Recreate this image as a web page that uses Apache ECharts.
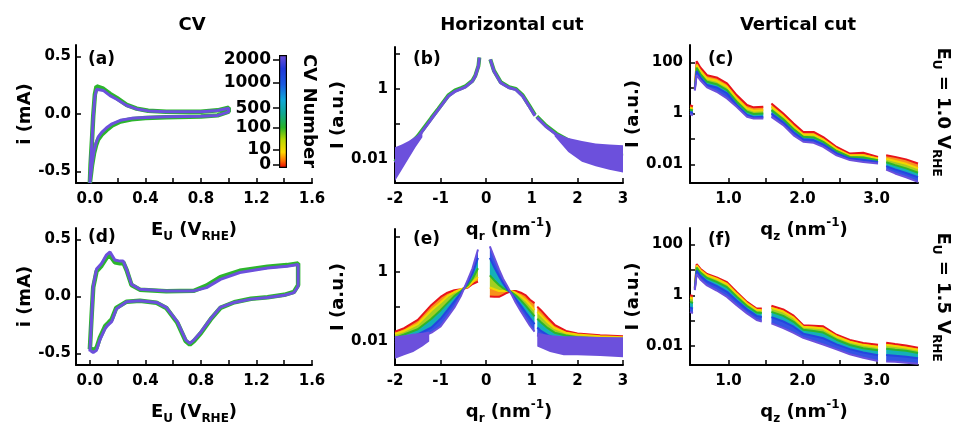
<!DOCTYPE html>
<html>
<head>
<meta charset="utf-8">
<script src="https://cdn.jsdelivr.net/npm/echarts@6.0.0/dist/echarts.min.js"></script>
<style>html,body{margin:0;padding:0;background:#fff}#main{width:955px;height:426px}</style>
</head>
<body>
<div id="main"></div>
<script>
// ---- CV, E_U = 1.0 V (a) ----
const aE = [0, 0.005, 0.015, 0.024, 0.036, 0.048, 0.06, 0.096, 0.145, 0.193, 0.265, 0.337, 0.42, 0.55, 0.8, 0.92, 1.0, 1.0, 0.92, 0.8, 0.55, 0.4, 0.3, 0.22, 0.16, 0.12, 0.085, 0.06, 0.045, 0.03, 0.015, 0.0]
const aPurple = [-0.6, -0.44, -0.235, -0.03, 0.15, 0.215, 0.23, 0.205, 0.16, 0.128, 0.074, 0.044, 0.027, 0.02, 0.02, 0.03, 0.05, 0.018, -0.012, -0.02, -0.024, -0.03, -0.038, -0.055, -0.085, -0.12, -0.16, -0.2, -0.25, -0.32, -0.44, -0.6]
const aGreen = [-0.6, -0.44, -0.23, -0.02, 0.17, 0.24, 0.25, 0.22, 0.175, 0.14, 0.08, 0.047, 0.028, 0.02, 0.02, 0.032, 0.055, 0.02, -0.012, -0.022, -0.028, -0.035, -0.045, -0.065, -0.1, -0.14, -0.18, -0.22, -0.27, -0.34, -0.45, -0.6]

// ---- CV, E_U = 1.5 V (d) ----
const dE = [0, 0.012, 0.024, 0.048, 0.084, 0.12, 0.145, 0.18, 0.217, 0.24, 0.265, 0.3, 0.36, 0.55, 0.75, 0.84, 0.94, 1.08, 1.28, 1.42, 1.5, 1.5, 1.47, 1.4, 1.28, 1.16, 1.04, 0.94, 0.87, 0.8, 0.75, 0.72, 0.69, 0.63, 0.55, 0.48, 0.36, 0.265, 0.19, 0.157, 0.13, 0.11, 0.072, 0.048, 0.024, 0.0]
const dPurple = [-0.48, -0.2, 0.09, 0.24, 0.29, 0.365, 0.39, 0.32, 0.31, 0.31, 0.236, 0.106, 0.063, 0.049, 0.049, 0.078, 0.15, 0.21, 0.25, 0.265, 0.28, 0.09, 0.034, 0.011, -0.009, -0.023, -0.052, -0.095, -0.195, -0.31, -0.38, -0.41, -0.38, -0.22, -0.095, -0.052, -0.037, -0.046, -0.11, -0.22, -0.25, -0.28, -0.38, -0.47, -0.49, -0.47]
const dGreen = [-0.46, -0.18, 0.08, 0.22, 0.27, 0.34, 0.36, 0.3, 0.29, 0.3, 0.23, 0.1, 0.06, 0.047, 0.05, 0.095, 0.17, 0.225, 0.26, 0.275, 0.29, 0.1, 0.04, 0.015, -0.006, -0.02, -0.05, -0.1, -0.2, -0.32, -0.39, -0.42, -0.39, -0.23, -0.1, -0.055, -0.038, -0.045, -0.1, -0.2, -0.235, -0.26, -0.36, -0.45, -0.47, -0.45]

// ---- Horizontal cut, 1.0 V (b) ----  '-' = detector gap
const bQ = [-2.0, -1.8, -1.5, -1.2, -1.05, -0.83, -0.68, -0.55, -0.46, -0.3, -0.24, -0.17, -0.15, 0, 0.09, 0.17, 0.32, 0.5, 0.65, 0.8, 0.94, 1.07, 1.09, 1.11, 1.31, 1.54, 1.76, 1.98, 2.3, 2.6, 3.0]
const bPurple = [0.0079, 0.0166, 0.0417, 0.141, 0.257, 0.617, 0.851, 1.0, 1.12, 1.66, 2.29, 4.47, 7.76, '-', 6.9, 3.16, 1.48, 1.07, 0.95, 0.62, 0.32, 0.17, '-', 0.155, 0.085, 0.05, 0.035, 0.0257, 0.0178, 0.0141, 0.012]
const bGreen = [0.0085, 0.018, 0.045, 0.15, 0.27, 0.65, 0.9, 1.05, 1.17, 1.72, 2.35, 4.5, 7.76, '-', 6.9, 3.3, 1.55, 1.12, 1.0, 0.66, 0.34, 0.18, '-', 0.165, 0.09, 0.053, 0.037, 0.027, 0.0185, 0.0145, 0.0125]
const bTailLq = [-2.0, -1.85, -1.7, -1.55, -1.4]
const bTailLTop = [0.022, 0.026, 0.033, 0.044, 0.06]
const bTailLBot = [0.0024, 0.005, 0.0105, 0.022, 0.042]
const bTailRq = [1.5, 1.8, 2.1, 2.4, 2.7, 3.0]
const bTailRTop = [0.056, 0.04, 0.033, 0.028, 0.026, 0.025]
const bTailRBot = [0.045, 0.016, 0.0085, 0.0063, 0.005, 0.0042]

// ---- Horizontal cut, 1.5 V (e) ----
const eQ = [-2.0, -1.8, -1.5, -1.2, -1.0, -0.85, -0.7, -0.55, -0.4, -0.3, -0.18, 0, 0.08, 0.18, 0.28, 0.37, 0.46, 0.55, 0.65, 0.76, 0.87, 0.96, 1.06, 1.09, 1.12, 1.2, 1.35, 1.5, 1.75, 2.0, 2.5, 3.0]
const eRed = [0.019, 0.024, 0.0417, 0.112, 0.19, 0.251, 0.295, 0.316, 0.355, 0.447, 0.525, '-', 0.195, 0.191, 0.191, 0.219, 0.251, 0.282, 0.282, 0.251, 0.209, 0.158, 0.126, '-', 0.1, 0.079, 0.048, 0.030, 0.02, 0.017, 0.0151, 0.0141]
const eYellow = [0.0166, 0.02, 0.0316, 0.079, 0.132, 0.2, 0.263, 0.316, 0.372, 0.5, 0.708, '-', 0.355, 0.316, 0.282, 0.282, 0.282, 0.282, 0.251, 0.2, 0.151, 0.112, 0.079, '-', 0.071, 0.056, 0.0355, 0.024, 0.0178, 0.0158, 0.0141, 0.0132]
const eGreen = [0.0126, 0.0158, 0.0224, 0.0447, 0.079, 0.126, 0.2, 0.282, 0.417, 0.631, 1.26, '-', 0.794, 0.562, 0.417, 0.339, 0.295, 0.263, 0.209, 0.151, 0.105, 0.0759, 0.0525, '-', 0.0447, 0.0355, 0.024, 0.0178, 0.0148, 0.0132, 0.012, 0.0112]
const eBlue = [0.0105, 0.012, 0.0158, 0.0251, 0.0447, 0.079, 0.141, 0.251, 0.501, 0.891, 2.51, '-', 2.51, 1.32, 0.759, 0.468, 0.316, 0.24, 0.166, 0.107, 0.0676, 0.0468, 0.0316, '-', 0.0251, 0.02, 0.0151, 0.0126, 0.0112, 0.0107, 0.01, 0.01]
const ePurple = [0.0089, 0.01, 0.012, 0.0178, 0.0269, 0.0501, 0.0933, 0.209, 0.603, 1.26, 4.4, '-', 5.4, 2.51, 1.17, 0.631, 0.389, 0.234, 0.129, 0.0741, 0.0437, 0.0282, 0.0191, '-', 0.0151, 0.0126, 0.0107, 0.01, 0.0093, 0.0089, 0.0089, 0.0089]
const eTailLq = [-2.0, -1.8, -1.6, -1.4, -1.25]
const eTailLTop = [0.0141, 0.0151, 0.0166, 0.0178, 0.019]
const eTailLBot = [0.0032, 0.004, 0.005, 0.0071, 0.01]
const eTailRq = [1.12, 1.4, 1.7, 2.0, 2.5, 3.0]
const eTailRTop = [0.0178, 0.0151, 0.0141, 0.0141, 0.0135, 0.0132]
const eTailRBot = [0.0071, 0.005, 0.004, 0.004, 0.0038, 0.0035]

// ---- Vertical cut, 1.0 V (c) ----
const qC = [0.48, 0.5, 0.52, 0.53, 0.545, 0.57, 0.62, 0.71, 0.84, 0.98, 1.11, 1.25, 1.34, 1.47, 1.52, 1.58, 1.74, 1.88, 2.01, 2.15, 2.28, 2.46, 2.64, 2.82, 3.02, 3.08, 3.13, 3.25, 3.4, 3.56]
const cRed = [2.1, 2.0, 1.9, '-', 10, 112, 63, 31.6, 25.7, 15.1, 5.25, 2.14, 1.74, 1.82, '-', 2.45, 1.0, 0.41, 0.19, 0.19, 0.12, 0.049, 0.027, 0.029, 0.02, '-', 0.023, 0.02, 0.016, 0.011]
const cYellow = [1.7, 1.6, 1.55, '-', 9.5, 83, 47, 23.4, 19, 11.2, 3.9, 1.58, 1.29, 1.35, '-', 1.82, 0.77, 0.31, 0.15, 0.148, 0.095, 0.041, 0.023, 0.0234, 0.0172, '-', 0.017, 0.0138, 0.0107, 0.0072]
const cGreen = [1.4, 1.35, 1.3, '-', 9, 62, 35, 17.4, 14, 8.3, 2.9, 1.18, 0.96, 1.0, '-', 1.35, 0.59, 0.24, 0.122, 0.116, 0.077, 0.034, 0.02, 0.019, 0.0148, '-', 0.0123, 0.0095, 0.0071, 0.0048]
const cBlue = [1.15, 1.1, 1.05, '-', 8.5, 46, 26, 13, 10.5, 6.2, 2.15, 0.88, 0.71, 0.75, '-', 1.0, 0.45, 0.184, 0.098, 0.091, 0.062, 0.028, 0.0172, 0.0155, 0.0127, '-', 0.0087, 0.0065, 0.0047, 0.0032]
const cPurple = [0.95, 0.9, 0.85, '-', 7.9, 31.6, 20, 10.5, 7.1, 3.9, 1.82, 0.74, 0.63, 0.63, '-', 0.74, 0.35, 0.14, 0.078, 0.071, 0.049, 0.023, 0.015, 0.0126, 0.011, '-', 0.0063, 0.0045, 0.0032, 0.0021]

// ---- Vertical cut, 1.5 V (f) ----
const qF = [0.48, 0.5, 0.52, 0.53, 0.545, 0.57, 0.62, 0.71, 0.84, 0.98, 1.11, 1.25, 1.38, 1.45, 1.52, 1.58, 1.74, 1.88, 2.01, 2.15, 2.28, 2.46, 2.64, 2.82, 3.02, 3.08, 3.13, 3.25, 3.4, 3.56]
const fRed = [1.0, 1.0, 0.95, '-', 2.0, 17, 11.2, 6.9, 5.1, 3.3, 1.35, 0.55, 0.30, 0.30, '-', 0.39, 0.28, 0.158, 0.066, 0.063, 0.06, 0.028, 0.0174, 0.0132, 0.0112, '-', 0.0135, 0.012, 0.0105, 0.0087]
const fYellow = [0.8, 0.78, 0.75, '-', 1.95, 15, 10, 6.2, 4.5, 2.8, 1.17, 0.49, 0.27, 0.26, '-', 0.32, 0.23, 0.132, 0.058, 0.054, 0.049, 0.024, 0.0148, 0.0112, 0.0093, '-', 0.011, 0.01, 0.0087, 0.0072]
const fGreen = [0.55, 0.52, 0.5, '-', 1.84, 12.3, 7.9, 4.8, 3.4, 2.1, 0.89, 0.38, 0.21, 0.2, '-', 0.224, 0.155, 0.091, 0.044, 0.039, 0.034, 0.0178, 0.011, 0.0083, 0.0068, '-', 0.0079, 0.0072, 0.0065, 0.0054]
const fBlue = [0.33, 0.32, 0.3, '-', 1.72, 9.5, 5.9, 3.5, 2.35, 1.38, 0.62, 0.28, 0.155, 0.14, '-', 0.138, 0.093, 0.058, 0.031, 0.025, 0.0204, 0.0117, 0.0076, 0.0056, 0.0044, '-', 0.0045, 0.0042, 0.0038, 0.0033]
const fPurple = [0.22, 0.2, 0.2, '-', 1.6, 6.9, 4.2, 2.45, 1.55, 0.87, 0.41, 0.195, 0.107, 0.093, '-', 0.079, 0.051, 0.033, 0.021, 0.0155, 0.0115, 0.0074, 0.0048, 0.0035, 0.0026, '-', 0.0025, 0.0024, 0.0022, 0.002]

// tick / label values
const cvTicks = [0, 0.2, 0.4, 0.6, 0.8, 1.0, 1.2, 1.4, 1.6]
const cvLabels = [0, 0.4, 0.8, 1.2, 1.6]
const iLabels = [-0.5, 0, 0.5]
const qrLabels = [-2, -1, 0, 1, 2, 3]
const qzTicks = [1.0, 1.5, 2.0, 2.5, 3.0]
const qzLabels = [1.0, 2.0, 3.0]
const hTicks = [0.01, 0.1, 1, 10]
const hLabels = [0.01, 1]
const vTicks = [0.01, 0.1, 1, 10, 100]
const vLabels = [0.01, 1, 100]
const cbLabels = ['0', '10', '100', '500', '1000', '2000']
const cbLevels = [0.03, 0.16, 0.36, 0.53, 0.756, 0.96]

const FONT = 'DejaVu Sans'
const COL = { red: '#e8141c', yellow: '#f2d600', green: '#2cb52c', blue: '#2446e0', purple: '#6c50dc' }
const FILL = ['#f8901c', '#a2cf22', '#14b0b8', '#3454e4']

const txt = { color: '#000', fontFamily: FONT, fontWeight: 'bold' }
const rich = {
  m: { ...txt, fontSize: 18, lineHeight: 26 },
  s: { ...txt, fontSize: 12, lineHeight: 14, verticalAlign: 'bottom' },
  p: { ...txt, fontSize: 12, lineHeight: 14, verticalAlign: 'top' }
}
const fix1 = v => (+v).toFixed(1)
const plain = v => String(+(+v).toPrecision(3))
const cbText = v => { let b = 0; cbLevels.forEach((l, i) => { if (Math.abs(l - v) < Math.abs(cbLevels[b] - v)) b = i }); return cbLabels[b] }

function mkAxis(g, o) {
  return {
    gridIndex: g, type: o.type || 'value', min: o.min, max: o.max,
    axisLine: { show: true, onZero: false, lineStyle: { color: '#000', width: 2 } },
    axisTick: { show: true, inside: true, length: 5, customValues: o.ticks, lineStyle: { color: '#000', width: 1.5 } },
    axisLabel: { ...txt, fontSize: 15, margin: o.margin, customValues: o.labels, formatter: o.fmt },
    splitLine: { show: false },
    name: o.name, nameLocation: 'middle', nameGap: o.gap,
    nameTextStyle: { ...txt, fontSize: 18, rich }
  }
}
// colour-bar scale: two stacked axes so the close 0 / 10 labels both stay visible
function cbAxis(vals) {
  return {
    gridIndex: 6, type: 'value', min: 0, max: 1, position: 'left',
    axisLine: { show: false }, splitLine: { show: false },
    axisTick: { show: true, inside: false, length: 6, customValues: vals, lineStyle: { color: '#000', width: 1.5 } },
    axisLabel: { ...txt, fontSize: 17, margin: 8, customValues: vals, formatter: cbText }
  }
}

function pairs(xs, ys) { return xs.map((x, i) => [x, ys[i]]) }
function line(g, xs, ys, color, width, z) {
  return { type: 'line', xAxisIndex: g, yAxisIndex: g, data: pairs(xs, ys), showSymbol: false, symbol: 'none',
    silent: true, animation: false, clip: true, z: z || 3, lineStyle: { color, width } }
}
// filled region between two curves (drawn through the axes' scales)
function band(g, xs, lo, hi, color, z) {
  return {
    type: 'custom', xAxisIndex: g, yAxisIndex: g, silent: true, animation: false, clip: true, z: z || 2,
    data: [[xs[0], hi[0]]],
    renderItem: (params, api) => {
      const children = []
      let top = [], bot = []
      const flush = () => {
        if (top.length > 1) children.push({ type: 'polygon', shape: { points: top.concat(bot.reverse()) }, style: { fill: color } })
        top = []; bot = []
      }
      xs.forEach((x, i) => {
        if (hi[i] === '-' || lo[i] === '-') { flush(); return }
        top.push(api.coord([x, hi[i]])); bot.push(api.coord([x, lo[i]]))
      })
      flush()
      return { type: 'group', children }
    }
  }
}
function fan(g, xs, curves) {
  const out = []
  for (let k = 0; k < curves.length - 1; k++) out.push(band(g, xs, curves[k + 1], curves[k], FILL[k], 2))
  const cols = [COL.red, COL.yellow, COL.green, COL.blue, COL.purple]
  curves.forEach((c, k) => out.push(line(g, xs, c, cols[k], 2, 3)))
  return out
}

const cvName = '{m|E}{s|U}{m| (V}{s|RHE}{m|)}'
const qrName = '{m|q}{s|r}{m| (nm}{p|-1}{m|)}'
const qzName = '{m|q}{s|z}{m| (nm}{p|-1}{m|)}'

const xAxes = [
  mkAxis(0, { min: -0.1, max: 1.6, ticks: cvTicks, labels: cvLabels, fmt: fix1, margin: 9, name: cvName, gap: 34 }),
  mkAxis(1, { min: -2, max: 3, ticks: qrLabels, labels: qrLabels, fmt: plain, margin: 9, name: qrName, gap: 34 }),
  mkAxis(2, { min: 0.48, max: 3.56, ticks: qzTicks, labels: qzLabels, fmt: fix1, margin: 9, name: qzName, gap: 34 }),
  mkAxis(3, { min: -0.1, max: 1.6, ticks: cvTicks, labels: cvLabels, fmt: fix1, margin: 9, name: cvName, gap: 34 }),
  mkAxis(4, { min: -2, max: 3, ticks: qrLabels, labels: qrLabels, fmt: plain, margin: 9, name: qrName, gap: 34 }),
  mkAxis(5, { min: 0.48, max: 3.56, ticks: qzTicks, labels: qzLabels, fmt: fix1, margin: 9, name: qzName, gap: 34 }),
  { gridIndex: 6, type: 'category', data: ['cb'], show: false }
]
const yAxes = [
  mkAxis(0, { min: -0.6, max: 0.6, ticks: iLabels, labels: iLabels, fmt: fix1, margin: 5, name: 'i (mA)', gap: 42 }),
  mkAxis(1, { type: 'log', min: 0.0021, max: 15.5, ticks: hTicks, labels: hLabels, fmt: plain, margin: 7, name: 'I (a.u.)', gap: 41 }),
  mkAxis(2, { type: 'log', min: 0.0019, max: 480, ticks: vTicks, labels: vLabels, fmt: plain, margin: 7, name: 'I (a.u.)', gap: 41 }),
  mkAxis(3, { min: -0.6, max: 0.6, ticks: iLabels, labels: iLabels, fmt: fix1, margin: 5, name: 'i (mA)', gap: 42 }),
  mkAxis(4, { type: 'log', min: 0.0021, max: 17, ticks: hTicks, labels: hLabels, fmt: plain, margin: 7, name: 'I (a.u.)', gap: 41 }),
  mkAxis(5, { type: 'log', min: 0.0018, max: 450, ticks: vTicks, labels: vLabels, fmt: plain, margin: 7, name: 'I (a.u.)', gap: 41 }),
  cbAxis([cbLevels[0], cbLevels[2], cbLevels[4]]),
  cbAxis([cbLevels[1], cbLevels[3], cbLevels[5]])
]

const series = [
  // (a)
  line(0, aE, aGreen, COL.green, 4.5, 2),
  line(0, aE, aPurple, COL.purple, 3, 3),
  // (d)
  line(3, dE, dGreen, COL.green, 4.5, 2),
  line(3, dE, dPurple, COL.purple, 3, 3),
  // (b)
  line(1, bQ, bGreen, COL.green, 4, 2),
  line(1, bQ, bPurple, COL.purple, 3, 3),
  band(1, bTailLq, bTailLBot, bTailLTop, COL.purple, 4),
  band(1, bTailRq, bTailRBot, bTailRTop, COL.purple, 4),
  // (e)
  ...fan(4, eQ, [eRed, eYellow, eGreen, eBlue, ePurple]),
  band(4, eTailLq, eTailLBot, eTailLTop, COL.purple, 4),
  band(4, eTailRq, eTailRBot, eTailRTop, COL.purple, 4),
  // (c), (f)
  ...fan(2, qC, [cRed, cYellow, cGreen, cBlue, cPurple]),
  ...fan(5, qF, [fRed, fYellow, fGreen, fBlue, fPurple]),
  // colour bar
  {
    type: 'bar', xAxisIndex: 6, yAxisIndex: 6, data: [1], barWidth: '100%', silent: true, animation: false,
    itemStyle: {
      borderColor: '#000', borderWidth: 1.2,
      color: new echarts.graphic.LinearGradient(0, 1, 0, 0, [
        { offset: 0, color: '#e80000' }, { offset: 0.06, color: '#ff6a00' }, { offset: 0.14, color: '#ffd800' },
        { offset: 0.25, color: '#b8d800' }, { offset: 0.36, color: '#28b428' }, { offset: 0.48, color: '#10a890' },
        { offset: 0.6, color: '#10a8d8' }, { offset: 0.74, color: '#1a5ae0' }, { offset: 0.88, color: '#2038d8' },
        { offset: 1, color: '#7050d8' }
      ])
    }
  }
]

const gRich = {
  m: { fill: '#000', fontFamily: FONT, fontWeight: 'bold', fontSize: 18, lineHeight: 26 },
  s: { fill: '#000', fontFamily: FONT, fontWeight: 'bold', fontSize: 12, lineHeight: 14, verticalAlign: 'bottom' }
}
function label(x, y, text, size, align, rotation) {
  return { type: 'text', x, y, rotation: rotation || 0, silent: true,
    style: { text, fill: '#000', fontFamily: FONT, fontWeight: 'bold', fontSize: size, align: align || 'center', verticalAlign: 'middle', rich: gRich } }
}
const graphic = [
  label(192, 25, 'CV', 18),
  label(512, 25, 'Horizontal cut', 18),
  label(798, 25, 'Vertical cut', 18),
  label(88, 60, '(a)', 17, 'left'),
  label(413, 60, '(b)', 17, 'left'),
  label(708, 60, '(c)', 17, 'left'),
  label(88, 238, '(d)', 17, 'left'),
  label(413, 240, '(e)', 17, 'left'),
  label(708, 241, '(f)', 17, 'left'),
  label(309, 111, 'CV Number', 18, 'center', -Math.PI / 2),
  label(943, 112, '{m|E}{s|U}{m| = 1.0 V}{s|RHE}', 18, 'center', -Math.PI / 2),
  label(943, 297, '{m|E}{s|U}{m| = 1.5 V}{s|RHE}', 18, 'center', -Math.PI / 2)
]

const chart = echarts.init(document.getElementById('main'))
chart.setOption({
  animation: false,
  backgroundColor: '#fff',
  grid: [
    { left: 76, top: 45, width: 236, height: 138 },
    { left: 395, top: 47, width: 228, height: 136 },
    { left: 690, top: 45, width: 228, height: 138 },
    { left: 76, top: 228, width: 236, height: 138 },
    { left: 395, top: 229, width: 228, height: 137 },
    { left: 690, top: 228, width: 228, height: 139 },
    { left: 279, top: 55, width: 8, height: 113 }
  ],
  xAxis: xAxes,
  yAxis: yAxes,
  series,
  graphic
})
</script>
</body>
</html>
